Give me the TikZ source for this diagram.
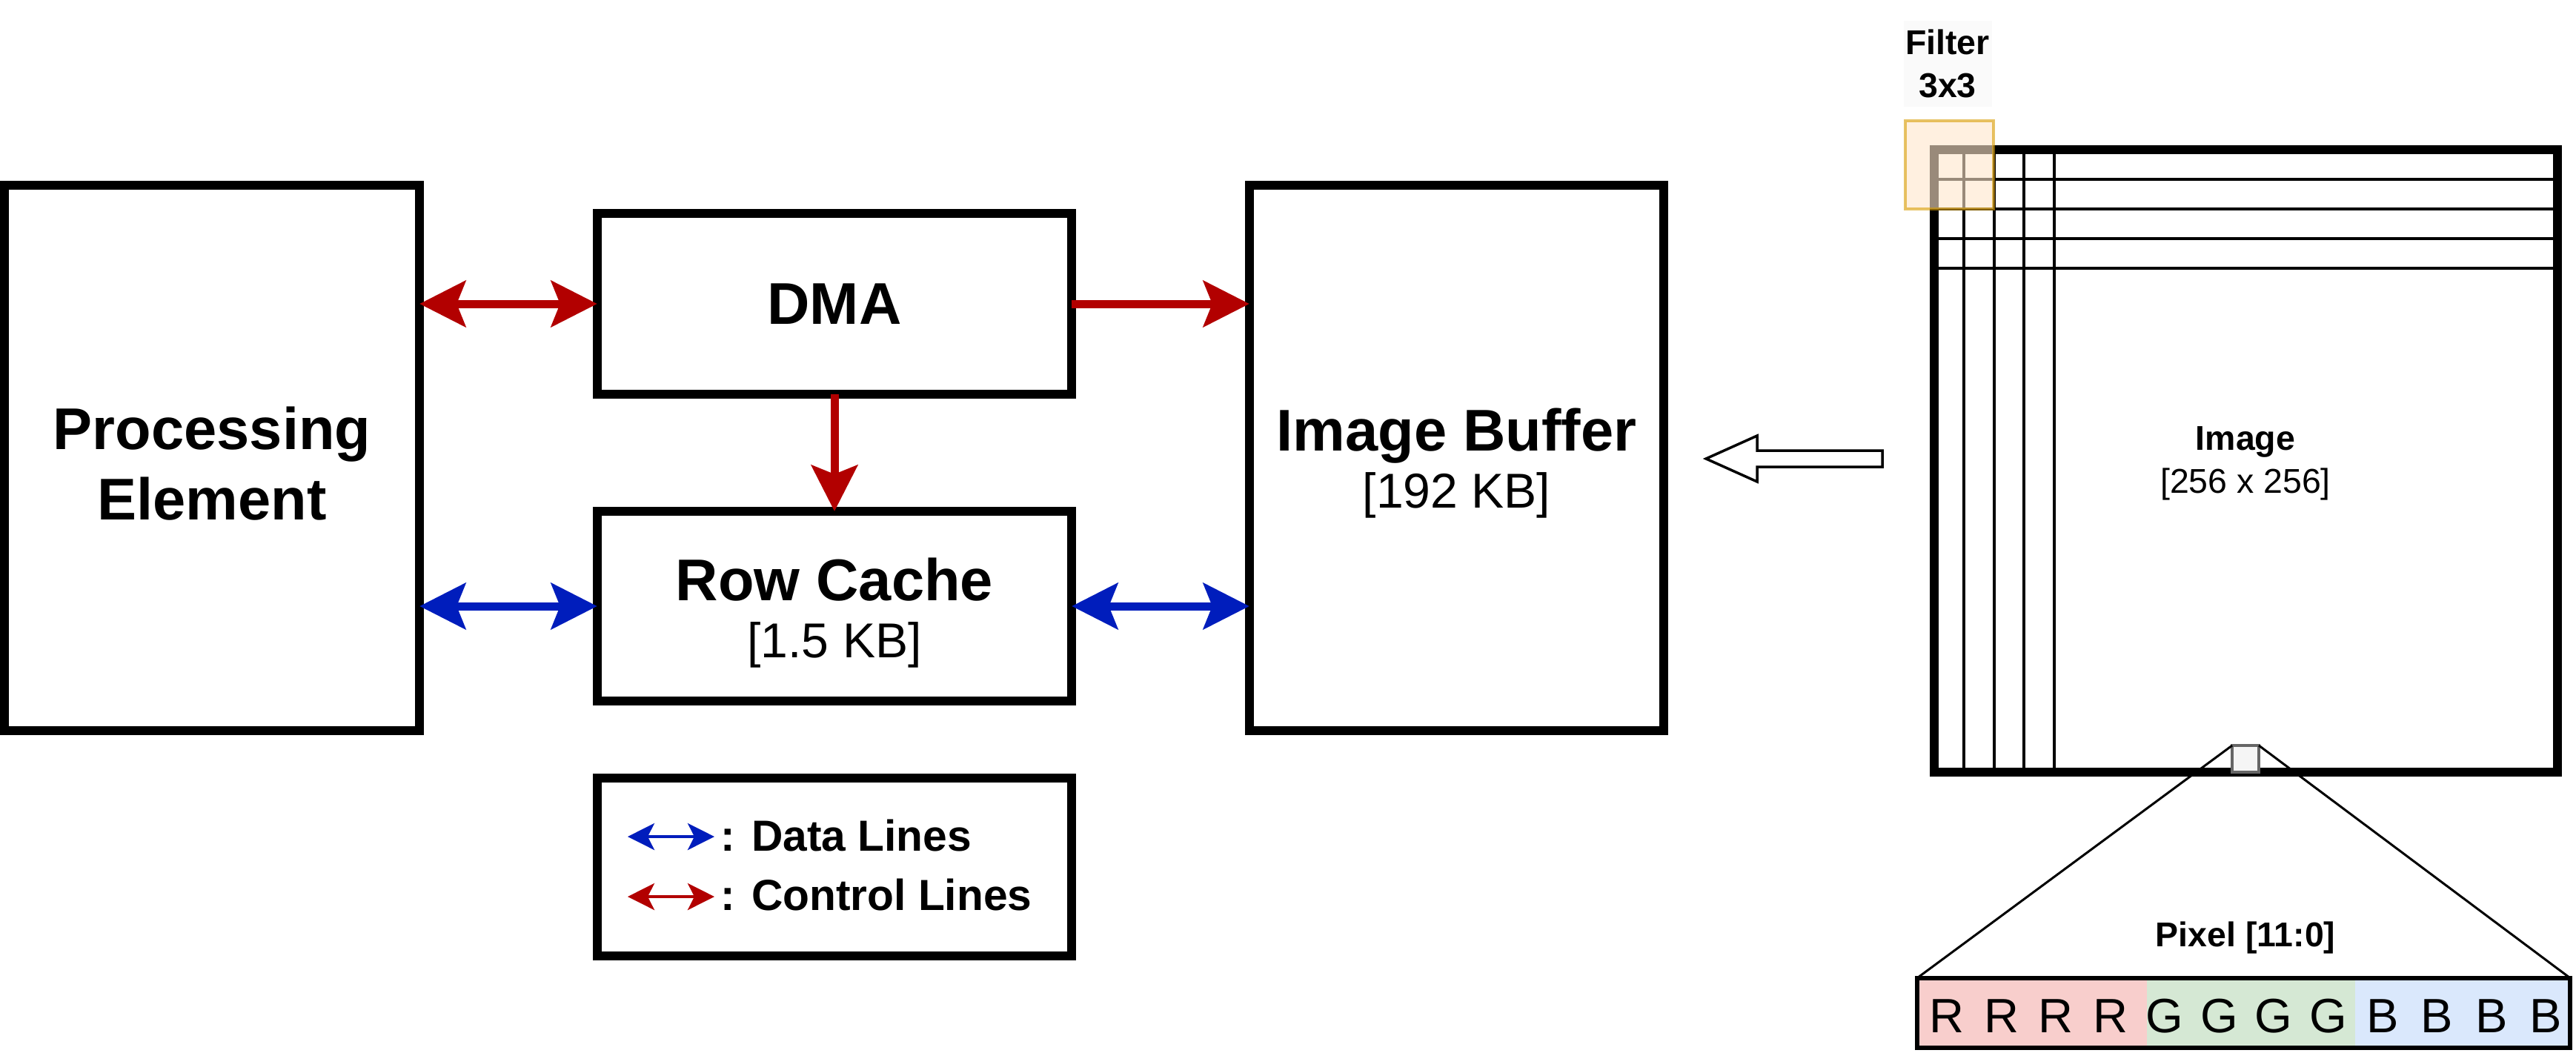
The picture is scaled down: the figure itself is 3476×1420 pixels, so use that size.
\documentclass[tikz,border=0pt]{standalone}
\usepackage{fontspec}
\setmainfont{Liberation Sans}
\usetikzlibrary{arrows.meta}
\definecolor{ctrlred}{HTML}{B20000}
\definecolor{datablue}{HTML}{001DBC}
\definecolor{filterfill}{HTML}{FFE6CC}
\definecolor{filterline}{HTML}{D79B00}
\definecolor{redbits}{HTML}{F8CECC}
\definecolor{greenbits}{HTML}{D5E8D4}
\definecolor{bluebits}{HTML}{DAE8FC}
\definecolor{pixfill}{HTML}{F5F5F5}
\definecolor{pixline}{HTML}{666666}
\tikzset{
  block/.style={draw, line width=0.12cm, inner sep=0pt, outer sep=0pt, align=center,
    font=\bfseries\fontsize{22.6}{27}\selectfont},
  blocktext/.style={inner sep=0pt, align=center, font=\bfseries\fontsize{22.6}{22}\selectfont},
  ctrl/.style={ctrlred, line width=0.11cm},
  data/.style={datablue, line width=0.11cm},
  legtip/.style={line width=0.04cm, >={Stealth[length=0.36cm,width=0.36cm,inset=0.09cm]}},
  legtext/.style={anchor=base west, inner sep=0pt, font=\bfseries\fontsize{16.7}{20}\selectfont},
  small/.style={font=\bfseries\fontsize{13.2}{16.5}\selectfont, align=center, inner sep=0pt},
  gridline/.style={line width=0.04cm},
}

\begin{document}
\begin{tikzpicture}[x=0.01cm,y=-0.01cm,>={Stealth[length=0.62cm,width=0.62cm,inset=0.12cm]}]
  \useasboundingbox (0,0) rectangle (3476,1420);

  \node[block, minimum width=5.6cm, minimum height=7.36cm] (pe) at (286,618) {};
  \node[block, minimum width=6.4cm, minimum height=2.44cm] (dma) at (1126,410) {DMA};
  \node[block, minimum width=6.4cm, minimum height=2.56cm] (rc) at (1126,818) {};
  \node[block, minimum width=5.59cm, minimum height=7.36cm] (ib) at (1965.5,618) {};
  \node[blocktext, font=\bfseries\fontsize{22.6}{27}\selectfont] (petext) at ([yshift=-0.08cm]pe.center) {Processing\\Element};
  \node[blocktext] (rctext) at ([yshift=-0.09cm]rc.center) {Row Cache\\{\mdseries\fontsize{18.8}{22}\selectfont [1.5 KB]}};
  \node[blocktext] (ibtext) at ([yshift=-0.07cm]ib.center) {Image Buffer\\{\mdseries\fontsize{18.8}{22}\selectfont [192 KB]}};

  \draw[ctrl,<->] (pe.east |- dma.west) -- (dma.west);
  \draw[ctrl,->] (dma.east) -- (dma.east -| ib.west);
  \draw[ctrl,->] (dma.south) -- (rc.north);
  \draw[data,<->] (pe.east |- rc.west) -- (rc.west);
  \draw[data,<->] (rc.east) -- (rc.east -| ib.west);

  \node[block, minimum width=6.4cm, minimum height=2.4cm] (legend) at (1126,1170) {};
  \coordinate (dataA) at (847,1129);
  \coordinate (dataB) at (964,1129);
  \coordinate (ctrlA) at (847,1210);
  \coordinate (ctrlB) at (964,1210);
  \draw[datablue, legtip, <->] (dataA) -- (dataB);
  \draw[ctrlred, legtip, <->] (ctrlA) -- (ctrlB);
  \node[legtext] (datatext) at (972,1148) {: Data Lines};
  \node[legtext] (ctrltext) at (972,1228) {: Control Lines};

  \draw[line width=0.035cm, line join=miter] (2540,608) -- (2371,608) -- (2371,588) -- (2302,619)
    -- (2371,650) -- (2371,630) -- (2540,630) -- cycle;

  \node[draw, line width=0.12cm, inner sep=0pt, outer sep=0pt, minimum width=8.41cm, minimum height=8.4cm]
    (img) at (3030.5,622) {};
  \foreach \k in {1,...,4} {
    \draw[gridline] ([xshift=\k*0.405cm]img.north west) -- ([xshift=\k*0.405cm]img.south west);
    \draw[gridline] ([yshift=-\k*0.4cm]img.north west) -- ([yshift=-\k*0.4cm]img.north east);
  }
  \node[small] (imglabel) at (3030,625) {Image\\{\mdseries [256 x 256]}};

  \node[small, fill=black!2, minimum width=1.19cm, minimum height=1.16cm] (filterlabel) at (2628,86) {Filter\\3x3};
  \node[draw=filterline, fill=filterfill, opacity=0.6, line width=0.04cm, inner sep=0pt, outer sep=0pt,
    minimum size=1.19cm] (filter) at (2630.5,222.5) {};

  \node[inner sep=0pt, outer sep=0pt, minimum width=8.81cm, minimum height=0.94cm] (bar) at (3027.5,1367) {};
  \fill[redbits] (bar.north west) rectangle ([xshift=3.1cm]bar.south west);
  \fill[greenbits] ([xshift=3.1cm]bar.north west) rectangle ([xshift=5.91cm]bar.south west);
  \fill[bluebits] ([xshift=5.91cm]bar.north west) rectangle (bar.south east);
  \draw[line width=0.06cm] (bar.north west) rectangle (bar.south east);
  \foreach \c [count=\i from 0] in {R,R,R,R,G,G,G,G,B,B,B,B}
    \node[anchor=base, inner sep=0pt, font=\fontsize{18.5}{20}\selectfont] (bit\i) at ({2627+73.5*\i},1393) {\c};
  \node[small] (pixlabel) at (3030,1265) {Pixel [11:0]};

  \node[draw=pixline, fill=pixfill, line width=0.04cm, inner sep=0pt, outer sep=0pt, minimum size=0.36cm]
    (pix) at (3030,1024) {};
  \draw[line width=0.03cm] (pix.north west) -- (bar.north west);
  \draw[line width=0.03cm] (pix.north east) -- (bar.north east);
\end{tikzpicture}
\end{document}
